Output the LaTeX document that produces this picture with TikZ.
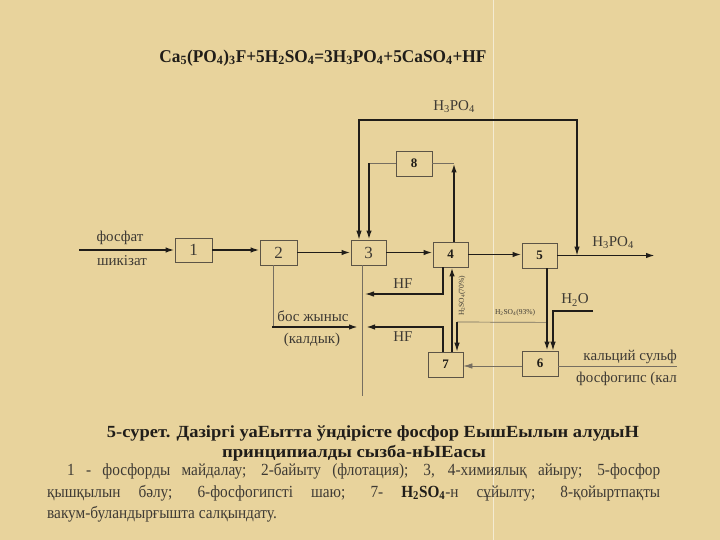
\documentclass[tikz,border=0pt]{standalone}
\usepackage{fontspec}
\setmainfont{Liberation Serif}
\newfontfamily\condserif[FakeStretch=0.9]{Liberation Serif}
\usetikzlibrary{arrows.meta}
\definecolor{paper}{RGB}{232,211,156}
\definecolor{ink}{RGB}{32,29,25}
\definecolor{thinc}{RGB}{118,110,96}
\definecolor{boxc}{RGB}{92,84,70}
\definecolor{lbl}{RGB}{62,58,52}
\begin{document}
\begin{tikzpicture}[x=1pt,y=-1pt,
  box/.style={draw=boxc, line width=0.8pt, minimum width=36pt, minimum height=25pt, inner sep=0pt},
  numa/.style={font=\fontsize{17}{17}\selectfont, text=lbl},
  numb/.style={font=\fontsize{13}{13}\selectfont\bfseries, text=ink},
  lab/.style={font=\fontsize{15}{15}\selectfont, text=lbl, inner sep=0pt},
  tiny/.style={font=\fontsize{7.5}{7.5}\selectfont, text=lbl, inner sep=0pt},
  tip/.style={-{Latex[length=9pt,width=5.5pt]}},
  thickln/.style={draw=ink, line width=1.7pt},
  medln/.style={draw=ink, line width=1.1pt},
  thinln/.style={draw=thinc, line width=0.7pt}]
\useasboundingbox (0,0) rectangle (720,540);
\fill[paper] (0,0) rectangle (720,540);
\draw[white, opacity=0.55, line width=0.8pt] (493,0) -- (493,540);

% equation
\node[font=\fontsize{18}{18}\selectfont\bfseries, text=ink, inner sep=0pt] (eq) at (323,58)
  {\resizebox{327pt}{\height}{Ca\textsubscript{5}(PO\textsubscript{4})\textsubscript{3}F+5H\textsubscript{2}SO\textsubscript{4}=3H\textsubscript{3}PO\textsubscript{4}+5CaSO\textsubscript{4}+HF}};

% boxes
\node[box, minimum width=37pt, minimum height=24pt, numa] (b1) at (193.5,250) {1};
\node[box, minimum width=37pt, numa] (b2) at (278.5,252.5) {2};
\node[box, minimum width=35pt, numa] (b3) at (368.5,252.5) {3};
\node[box, minimum width=35pt, numb] (b4) at (450.5,254.5) {4};
\node[box, minimum width=35pt, numb] (b5) at (539.5,255.5) {5};
\node[box, minimum width=36pt, numb] (b6) at (540,363.5) {6};
\node[box, minimum width=35pt, numb] (b7) at (445.5,364.5) {7};
\node[box, minimum width=36pt, numb] (b8) at (414,163.5) {8};

% helper coordinates
\coordinate (in) at (79,250);
\coordinate (out) at (655,255.5);
\coordinate (xa) at (359,0);
\coordinate (xb) at (369,0);
\coordinate (xc) at (454,0);
\coordinate (xd) at (577,0);
\coordinate (xe) at (443,0);
\coordinate (xf) at (452,0);
\coordinate (xg) at (457,0);
\coordinate (xh) at (547,0);
\coordinate (xi) at (553,0);
\coordinate (xj) at (273,0);
\coordinate (xk) at (362,0);
\coordinate (j8l) at (369,163.5);
\coordinate (j8r) at (454,163.5);
\coordinate (bos) at (272,327);
\coordinate (vline) at (362,396);
\coordinate (h2o) at (593,311);
\coordinate (r6) at (677,366);

% main line
\draw[thickln, tip] (in) -- (b1.west);
\draw[thickln, tip] (b1.east) -- (b1.east -| b2.west);
\draw[thickln, tip] (b2.east) -- (b2.east -| b3.west);
\draw[thickln, tip] (b3.east) -- (b3.east -| b4.west);
\draw[thickln, tip] (b4.east) -- (b4.east -| b5.west);
\draw[thickln, tip] (b5.east) -- (out);

% top H3PO4 loop
\draw[medln, {Latex[length=9pt,width=5.5pt]}-{Latex[length=9pt,width=5.5pt]}]
  (b3.north -| xa) -- (359,120) -- (577,120) -- (b5.east -| xd);

% box 8
\draw[thinln] (b8.west) -- (j8l);
\draw[thickln, tip] (j8l) -- (b3.north -| xb);
\draw[thinln] (b8.east) -- (j8r);
\draw[thickln, tip] (b4.north -| xc) -- (j8r);

% below
\draw[thinln] (b2.south -| xj) -- (bos -| xj);
\draw[thickln, tip] (bos) -- (358,327);
\draw[thinln] (b3.south -| xk) -- (vline);
\draw[medln, tip] (b4.south -| xe) -- (443,294) -- (365,294);
\draw[thickln, tip] (b7.north -| xe) -- (443,327) -- (366,327);
\draw[thickln, tip] (b7.north -| xf) -- (b4.south -| xf);
\draw[thinln] (b5.south -| xh) ++(0,54) coordinate (j93) -- (457,322);
\draw[medln, tip] (457,322) -- (b7.north -| xg);
\draw[thickln, tip] (b5.south -| xh) -- (b6.north -| xh);
\draw[medln, tip] (h2o) -- (553,311) -- (b6.north -| xi);
\draw[thinln, tip] (b6.west |- 0,366) -- (b7.east |- 0,366);
\draw[thinln] (b6.east |- 0,366) -- (r6);

% labels
\node[lab] (lh1) at (454,107) {H\textsubscript{3}PO\textsubscript{4}};
\node[lab] (lh2) at (613,243) {H\textsubscript{3}PO\textsubscript{4}};
\node[lab] (lf1) at (120,238) {фосфат};
\node[lab] (lf2) at (122,261) {шикізат};
\node[lab] (lhf1) at (403,284) {HF};
\node[lab] (lhf2) at (403,337) {HF};
\node[lab] (lbos) at (313,316) {бос жыныс};
\node[lab] (lkal) at (312,340) {(калдык)};
\node[lab] (lh2o) at (575,300) {H\textsubscript{2}O};
\node[tiny] (l93) at (515,313) {H\textsubscript{2}SO\textsubscript{4}(93\%)};
\node[tiny, rotate=90] (l70) at (462,296) {H\textsubscript{2}SO\textsubscript{4}(70\%)};
\node[lab, anchor=east] (lks) at (677,357) {кальций сульф};
\node[lab, anchor=east] (lfg) at (677,379) {фосфогипс (кал};

% caption
\node[font=\fontsize{17}{17}\selectfont\bfseries, text=ink, inner sep=0pt] (t1) at (373,433)
  {\resizebox{532pt}{\height}{5-сурет. Дазіргі уаЕытта ўндірісте фосфор ЕышЕылын алудыН}};
\node[font=\fontsize{17}{17}\selectfont\bfseries, text=ink, inner sep=0pt] (t2) at (354,453)
  {\resizebox{264pt}{\height}{принципиалды сызба-нЫЕасы}};
\node[font=\condserif\fontsize{17}{17}\selectfont, text=lbl, inner sep=0pt, anchor=west] (p1) at (67,471)
  {\makebox[593pt][s]{1 - фосфорды майдалау; 2-байыту (флотация); 3, 4-химиялық айыру; 5-фосфор}};
\node[font=\condserif\fontsize{17}{17}\selectfont, text=lbl, inner sep=0pt, anchor=west] (p2) at (47,493)
  {\makebox[613pt][s]{қышқылын бәлу; 6-фосфогипсті шаю; 7- {\bfseries\color{ink}H\textsubscript{2}SO\textsubscript{4}}-н сұйылту; 8-қойыртпақты}};
\node[font=\condserif\fontsize{17}{17}\selectfont, text=lbl, inner sep=0pt, anchor=west] (p3) at (47,514)
  {вакум-буландырғышта салқындату.};
\end{tikzpicture}
\end{document}
